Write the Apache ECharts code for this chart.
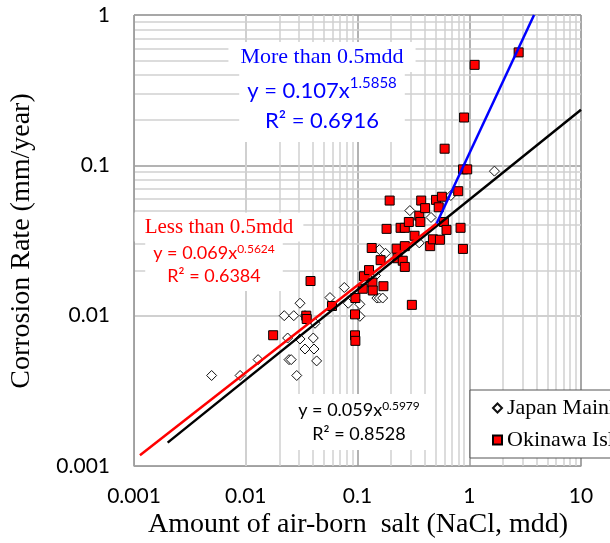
<!DOCTYPE html>
<html>
<head>
<meta charset="utf-8">
<script src="https://cdn.jsdelivr.net/npm/echarts@6/dist/echarts.min.js"></script>
<style>html,body{margin:0;padding:0;background:#fff;}#c{width:610px;height:543px;}</style>
</head>
<body>
<div id="c"></div>
<script>
// ---- data ----
const japanX = [0.00495,0.0089,0.0129,0.0221,0.0269,0.0306,0.0339,0.0417,0.0237,0.0306,0.0402,0.0339,0.0408,0.0244,0.0255,0.0431,0.0286,0.0567,0.0762,0.0827,0.105,0.105,0.145,0.149,0.157,0.168,0.157,0.178,0.294,0.455,0.357,0.684,1.68];
const japanY = [0.004,0.004,0.0051,0.01,0.01,0.0121,0.01,0.0089,0.0071,0.007,0.0071,0.006,0.006,0.0051,0.0051,0.005,0.004,0.0132,0.0154,0.0121,0.0119,0.0099,0.0185,0.0131,0.0131,0.0131,0.0275,0.026,0.05,0.045,0.0305,0.063,0.0915];
const okinawaX = [0.0176,0.0348,0.0351,0.038,0.0591,0.0957,0.095,0.095,0.0957,0.1114,0.1143,0.1268,0.134,0.136,0.137,0.1706,0.161,0.182,0.194,0.224,0.228,0.243,0.265,0.254,0.265,0.265,0.288,0.3066,0.324,0.357,0.365,0.3716,0.4027,0.447,0.473,0.5465,0.5043,0.533,0.569,0.593,0.626,0.602,0.797,0.836,0.878,0.899,0.88,0.959,1.117,2.767];
const okinawaY = [0.00741,0.01,0.0095,0.017,0.0116,0.0131,0.0102,0.0074,0.0068,0.0151,0.0183,0.0201,0.0282,0.0166,0.0147,0.0157,0.0234,0.0378,0.0583,0.0279,0.0241,0.0384,0.0384,0.0232,0.0211,0.029,0.042,0.0118,0.034,0.0462,0.042,0.0583,0.0519,0.029,0.0322,0.032,0.0589,0.0526,0.0618,0.042,0.0372,0.129,0.0673,0.0384,0.0278,0.208,0.094,0.094,0.466,0.564];
// trend lines (end points)
const allFitX = [0.002, 10];
const allFitY = [0.00143, 0.234];
const lowFitX = [0.00113, 0.51];
const lowFitY = [0.00118, 0.041];
const highFitX = [0.51, 3.8];
const highFitY = [0.041, 1.0];
const xTickLabels = ['0.001','0.01','0.1','1','10'];
const yTickLabels = ['0.001','0.01','0.1','1'];
const seriesNames = ['Japan Mainland','Okinawa Island'];

const zip = (a,b) => a.map((v,i)=>[v,b[i]]);
const minorX = [], minorY = [];
[0.001,0.01,0.1,1].forEach(d=>{for(let k=2;k<=9;k++) minorX.push(+(d*k).toPrecision(3));});
[0.001,0.01,0.1].forEach(d=>{for(let k=2;k<=9;k++) minorY.push(+(d*k).toPrecision(3));});

const sans = 'Lato';
const serif = 'Liberation Serif';
const chart = echarts.init(document.getElementById('c'), null, {renderer:'canvas'});
chart.setOption({
  animation:false,
  backgroundColor:'#fff',
  grid:{left:134, top:15, width:447, height:451, show:true, borderColor:'#a0a0a0', borderWidth:1},
  xAxis:{type:'log', logBase:10, min:0.001, max:10,
    axisLine:{show:true, lineStyle:{color:'#a0a0a0'}}, axisTick:{show:false},
    axisLabel:{margin:20, fontFamily:sans, fontSize:21, color:'#000', formatter:(v,i)=>xTickLabels[i]},
    splitLine:{show:true, lineStyle:{color:'#9a9a9a', width:1.5}}},
  yAxis:{type:'log', logBase:10, min:0.001, max:1,
    axisLine:{show:true, lineStyle:{color:'#a0a0a0'}}, axisTick:{show:false},
    axisLabel:{margin:24, fontFamily:sans, fontSize:21, color:'#000', formatter:(v,i)=>yTickLabels[i]},
    splitLine:{show:true, lineStyle:{color:'#9a9a9a', width:1.5}}},
  legend:{data:seriesNames, orient:'vertical', left:470, top:390, backgroundColor:'#fff',
    borderColor:'#555', borderWidth:1, borderRadius:0, padding:[7,10,7,22], itemGap:10,
    itemWidth:9, itemHeight:9,
    textStyle:{fontFamily:serif, fontSize:22, color:'#000'}},
  series:[
    {type:'scatter', name:'grid', silent:true, symbolSize:0, data:[[1,0.1]], z:0,
     markLine:{silent:true, z:0, zlevel:0, symbol:'none', label:{show:false}, animation:false,
       lineStyle:{color:'#d0d0d0', width:1.5, type:'solid'},
       data:[...minorX.map(v=>({xAxis:v})), ...minorY.map(v=>({yAxis:v}))]}},
    {type:'scatter', name:seriesNames[0], data:zip(japanX,japanY), symbol:'diamond', symbolSize:[10,10], z:3,
     itemStyle:{color:'#fff', borderColor:'#111', borderWidth:1, opacity:1}},
    {type:'scatter', name:seriesNames[1], data:zip(okinawaX,okinawaY), symbol:'rect', symbolSize:9, z:3,
     itemStyle:{color:'#ff0000', borderColor:'#000', borderWidth:1, opacity:1}},
    {type:'line', name:'allFit', data:zip(allFitX,allFitY), symbol:'none', z:5, lineStyle:{color:'#000', width:2.5}},
    {type:'line', name:'lowFit', data:zip(lowFitX,lowFitY), symbol:'none', z:6, lineStyle:{color:'#ff0000', width:2.5}},
    {type:'line', name:'highFit', data:zip(highFitX,highFitY), symbol:'none', z:6, lineStyle:{color:'#0000ff', width:2.5}}
  ],
  graphic:[
    {type:'text', x:22, y:241, rotation:Math.PI/2, style:{text:'Corrosion Rate (mm/year)', font:'28px "Liberation Serif"', fill:'#000', align:'center', verticalAlign:'middle'}},
    {type:'text', x:358, y:525, style:{text:'Amount of air-born  salt (NaCl, mdd)', font:'28px "Liberation Serif"', fill:'#000', align:'center', verticalAlign:'middle'}},
    // blue
    {type:'text', x:322, y:57, z:100, style:{text:'More than 0.5mdd', font:'22px "Liberation Serif"', fill:'#0000ff', align:'center', verticalAlign:'middle', backgroundColor:'#fff', padding:[4,12,4,12]}},
    {type:'text', x:322, y:106, z:99, style:{text:'{a|y = 0.107x}{s|1.5858}\n{a|R² = 0.6916}', align:'center', verticalAlign:'middle', backgroundColor:'#fff', padding:[6,8,6,8],
      rich:{a:{fontFamily:sans, fontSize:22, fill:'#0000ff', lineHeight:30}, s:{fontFamily:sans, fontSize:15, fill:'#0000ff', verticalAlign:'top', lineHeight:30, padding:[0,0,10,0]}}}},
    // red
    {type:'text', x:219, y:227, z:100, style:{text:'Less than 0.5mdd', font:'21px "Liberation Serif"', fill:'#ff0000', align:'center', verticalAlign:'middle', backgroundColor:'#fff', padding:[4,10,4,10]}},
    {type:'text', x:214, y:265, z:99, style:{text:'{a|y = 0.069x}{s|0.5624}\n{a|R² = 0.6384}', align:'center', verticalAlign:'middle', backgroundColor:'#fff', padding:[3,8,3,8],
      rich:{a:{fontFamily:sans, fontSize:18, fill:'#ff0000', lineHeight:23}, s:{fontFamily:sans, fontSize:12, fill:'#ff0000', lineHeight:23, padding:[0,0,8,0]}}}},
    // black
    {type:'text', x:359, y:422, z:99, style:{text:'{a|y = 0.059x}{s|0.5979}\n{a|R² = 0.8528}', align:'center', verticalAlign:'middle', backgroundColor:'#fff', padding:[4,8,4,8],
      rich:{a:{fontFamily:sans, fontSize:18, fill:'#000', lineHeight:24}, s:{fontFamily:sans, fontSize:12, fill:'#000', lineHeight:24, padding:[0,0,8,0]}}}}
  ]
});
</script>
</body>
</html>
